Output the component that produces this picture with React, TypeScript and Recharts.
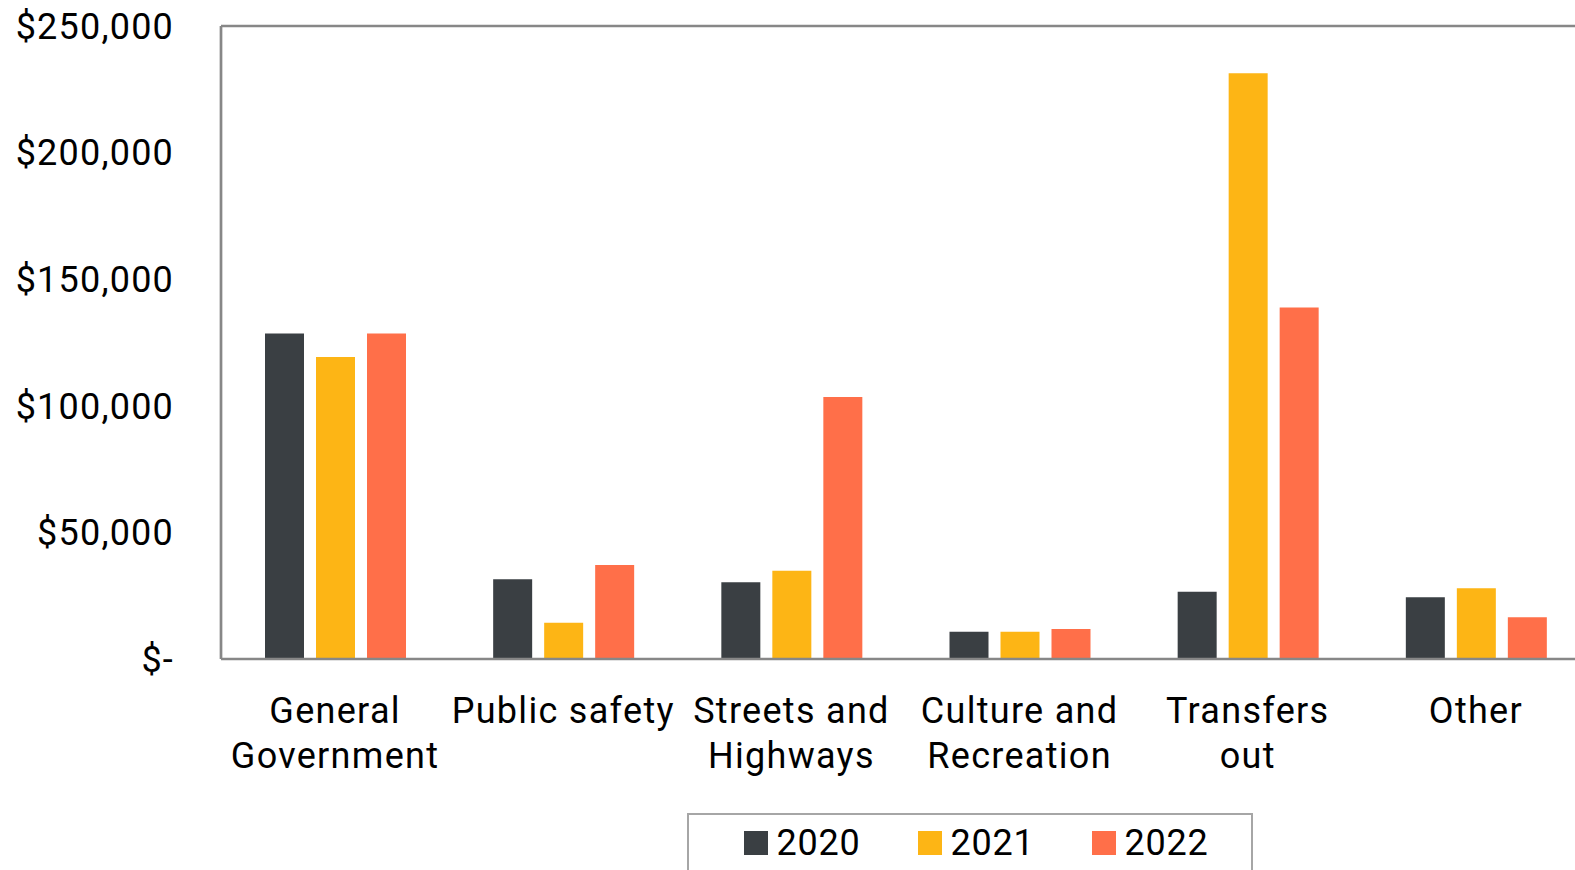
import React from "react";
import { BarChart, Bar, XAxis, YAxis, ReferenceLine, Legend } from "recharts";

if (typeof document !== "undefined" && document.body) {
  document.body.style.margin = "0";
  document.body.style.overflow = "hidden";
}

const categories = [
  "General Government",
  "Public safety",
  "Streets and Highways",
  "Culture and Recreation",
  "Transfers out",
  "Other",
];
const categoryLabelLines = [
  ["General", "Government"],
  ["Public safety"],
  ["Streets and", "Highways"],
  ["Culture and", "Recreation"],
  ["Transfers", "out"],
  ["Other"],
];
const values2020 = [128600, 31500, 30300, 10800, 26600, 24400];
const values2021 = [119300, 14300, 34900, 10800, 231300, 27900];
const values2022 = [128600, 37100, 103500, 11800, 138800, 16500];
const seriesNames = ["2020", "2021", "2022"];
const seriesColors = ["#3A3F43", "#FDB515", "#FF6F49"];
const yTicks = [0, 50000, 100000, 150000, 200000, 250000];

const data = categories.map((c, i) => ({
  name: c,
  "2020": values2020[i],
  "2021": values2021[i],
  "2022": values2022[i],
}));

const AXIS = "#878787";
const FONT = "Roboto, 'Liberation Sans', sans-serif";

const fmtY = (v: number) => (v === 0 ? "$-" : "$" + v.toLocaleString("en-US"));

const XTick = (props: any) => {
  const { x, y, payload } = props;
  const lines = categoryLabelLines[payload.index] || [String(payload.value)];
  return (
    <text
      x={x}
      y={y}
      textAnchor="middle"
      fontSize={36}
      fontFamily={FONT}
      fill="#000"
      style={{ letterSpacing: "1.3px" }}
    >
      {lines.map((l: string, i: number) => (
        <tspan key={i} x={x} y={y + 58 + i * 45}>
          {l}
        </tspan>
      ))}
    </text>
  );
};

const LegendBox = () => (
  <div
    style={{
      boxSizing: "border-box",
      width: 566,
      height: 70,
      border: "2.5px solid #A6A6A6",
      background: "#fff",
      paddingTop: 9.5,
      paddingLeft: 54.5,
      display: "flex",
      alignItems: "flex-start",
      fontFamily: FONT,
      overflow: "visible",
    }}
  >
    {seriesNames.map((n, i) => (
      <div
        key={n}
        style={{
          width: 174,
          flexShrink: 0,
          height: 36,
          display: "flex",
          alignItems: "center",
        }}
      >
        <div
          style={{
            width: 24,
            height: 24,
            flexShrink: 0,
            background: seriesColors[i],
            marginRight: 9,
          }}
        />
        <span
          style={{
            fontSize: 36,
            lineHeight: "36px",
            color: "#000",
            letterSpacing: "0.8px",
            whiteSpace: "nowrap",
          }}
        >
          {n}
        </span>
      </div>
    ))}
  </div>
);

export default function App() {
  return (
    <div
      style={{
        width: 1575,
        height: 870,
        overflow: "hidden",
        position: "relative",
      }}
    >
      <BarChart
        width={1590}
        height={829}
        data={data}
        margin={{ top: 26, right: 0, left: 0, bottom: 0 }}
        barSize={39}
        barGap={12}
        style={{ fontFamily: FONT }}
      >
        <XAxis
          dataKey="name"
          interval={0}
          height={100}
          tickLine={false}
          axisLine={{ stroke: AXIS, strokeWidth: 2.7 }}
          tick={<XTick />}
          tickMargin={0}
        />
        <YAxis
          width={221}
          domain={[0, 250000]}
          ticks={yTicks}
          tickFormatter={fmtY}
          tickLine={false}
          axisLine={{ stroke: AXIS, strokeWidth: 2.7 }}
          tickMargin={41}
          tick={{ fontSize: 36, fill: "#000", fontFamily: FONT, style: { letterSpacing: "1.2px" } }}
          interval={0}
        />
        <ReferenceLine y={250000} stroke={AXIS} strokeWidth={2.7} ifOverflow="extendDomain" />
        {seriesNames.map((n, i) => (
          <Bar key={n} dataKey={n} fill={seriesColors[i]} isAnimationActive={false} />
        ))}
        <Legend
          content={<LegendBox />}
          wrapperStyle={{ left: 687, top: 813, width: 566 }}
        />
      </BarChart>
    </div>
  );
}
